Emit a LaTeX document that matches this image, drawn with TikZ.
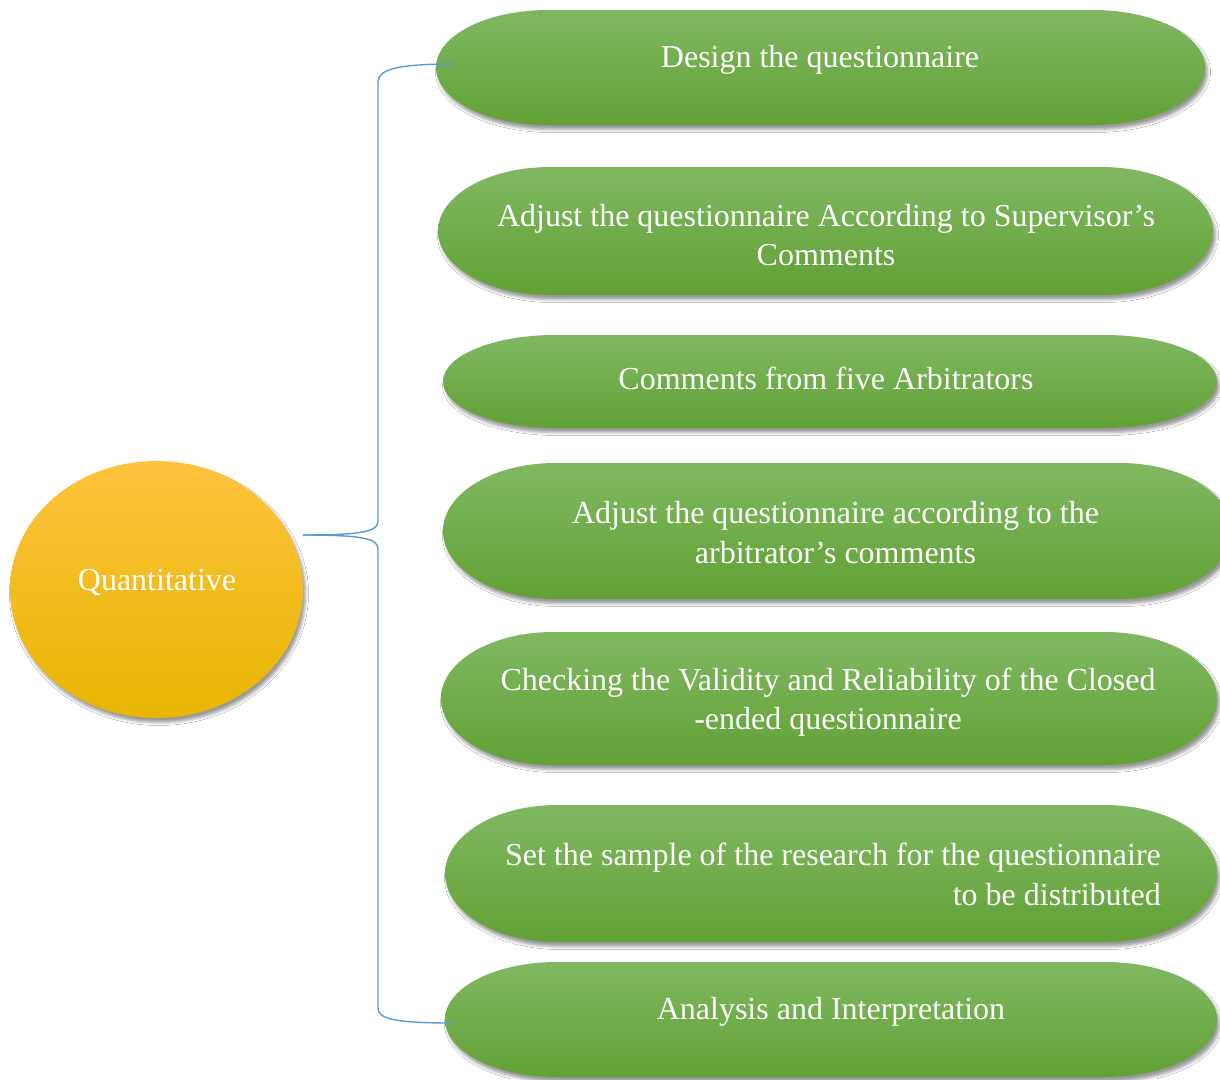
\documentclass[tikz,border=0pt]{standalone}
\usepackage{fontspec}
\setmainfont{Liberation Serif}
\usetikzlibrary{shadows.blur}

\definecolor{pilltop}{HTML}{80B862}
\definecolor{pillmid}{HTML}{6EAF45}
\definecolor{pillbot}{HTML}{62A136}
\definecolor{suntop}{HTML}{FDC33E}
\definecolor{sunmid}{HTML}{FEC503}
\definecolor{sunbot}{HTML}{E8B602}
\definecolor{bracket}{HTML}{5B9BD5}

\tikzset{
  softshadow/.style={blur shadow={shadow xshift=2.5pt, shadow yshift=-4.5pt,
      shadow blur radius=3pt, shadow opacity=40}},
  pillfill/.style={top color=pilltop, middle color=pillmid, bottom color=pillbot, softshadow},
  sunfill/.style={top color=suntop, middle color=sunmid, bottom color=sunbot, softshadow},
  steptext/.style={text=white, font=\fontsize{32}{39.5}\selectfont, align=center, inner sep=0pt},
  bracketline/.style={draw=bracket, line width=1.4pt},
}

% pill with elliptical ends: name, left, top, right, bottom
\newcommand{\greenpill}[5]{%
  \pgfmathsetmacro{\pillry}{(#5-#3)/2}%
  \path[pillfill] (#2+112,#3) -- (#4-112,#3)
    arc[start angle=-90, end angle=90, x radius=112, y radius=\pillry]
    -- (#2+112,#5)
    arc[start angle=90, end angle=270, x radius=112, y radius=\pillry]
    -- cycle;
  \coordinate (#1) at (#2,{(#3+#5)/2});
}

\begin{document}
\begin{tikzpicture}[x=1pt, y=-1pt]
  \useasboundingbox (0,0) rectangle (1220,1079);
  \clip (0,0) rectangle (1220,1079);
  \fill[white] (0,0) rectangle (1220,1079);

  % steps
  \greenpill{p1}{436}{10}{1205}{125}
  \greenpill{p2}{438}{167}{1213}{295}
  \greenpill{p3}{443}{335}{1217}{428}
  \greenpill{p4}{443}{463}{1232}{599}
  \greenpill{p5}{441}{632}{1217}{765}
  \greenpill{p6}{445}{805}{1217}{942}
  \greenpill{p7}{445}{962}{1217}{1077}

  \node[steptext] (t1) at (820,60) {Design the questionnaire};
  \node[steptext] (t2) at (826,235) {Adjust the questionnaire According to Supervisor’s\\Comments};
  \node[steptext] (t3) at (826,378) {Comments from five Arbitrators};
  \node[steptext] (t4) at (835.5,532.5) {Adjust the questionnaire according to the\\arbitrator’s comments};
  \node[steptext] (t5) at (828,702) {Checking the Validity and Reliability of the Closed\\-ended questionnaire};
  \node[steptext, align=right, anchor=east] (t6) at (1161,874.5) {Set the sample of the research for the questionnaire\\to be distributed};
  \node[steptext] (t7) at (831,1012) {Analysis and Interpretation};

  % root
  \path[sunfill] (156.5,589.5) ellipse[x radius=146.5, y radius=128.5];
  \node[steptext] (quant) at (157,582) {Quantitative};

  % bracket joining the root to the first and last step
  \coordinate (tip) at (303,535);
  \coordinate (p1in) at (454,64);
  \coordinate (p7in) at (453,1023);
  \draw[bracketline] (tip) .. controls (365,535) and (378,531) .. (378,521)
    -- (378,82) .. controls (378,70) and (395,64) .. (p1in);
  \draw[bracketline] (tip) .. controls (365,535) and (378,539) .. (378,549)
    -- (378,1008) .. controls (378,1019) and (395,1023) .. (p7in);
\end{tikzpicture}
\end{document}
